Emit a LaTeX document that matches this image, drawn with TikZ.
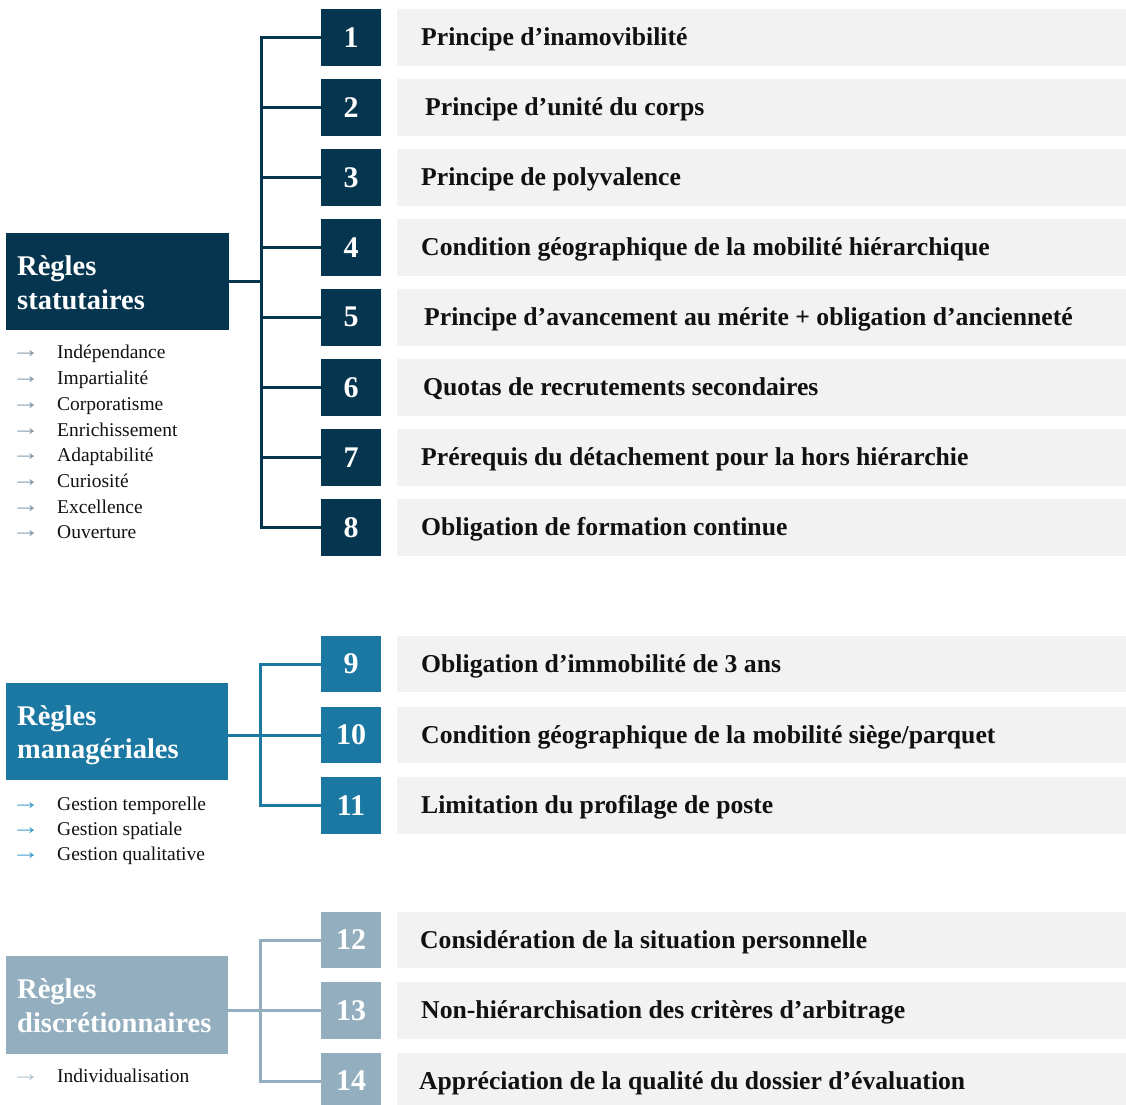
\documentclass[tikz,border=0pt]{standalone}
\usepackage{fontspec}
\setmainfont{Liberation Serif}
\usepackage{graphicx}
\definecolor{cA}{HTML}{06354F}
\definecolor{cB}{HTML}{1B78A2}
\definecolor{cC}{HTML}{92AEBF}
\definecolor{aA}{HTML}{7D96A9}
\definecolor{aB}{HTML}{3A9BCB}
\definecolor{aC}{HTML}{AEC3CF}
\definecolor{barg}{HTML}{F2F2F2}
\definecolor{txt}{HTML}{111111}
\newcommand\mkrow[5]{%
  \node[numbox, fill=#3] (n#1) at (351,#2) {\raisebox{-2pt}{#1}};
  \node[barbox] (b#1) at (761.5,#2) {};
  \node[bartext] (t#1) at (#4,#2+8) {#5};
}
\newcommand\mkitem[5]{%
  \node[arr, text=#3] (a#1) at (11.5,#2) {\raisebox{1pt}{\scalebox{1.45}[1.2]{→}}};
  \node[item] (i#1) at (57,#2) {#4};
}
\begin{document}
\begin{tikzpicture}[x=1pt,y=-1pt,
  numbox/.style={minimum width=60pt, minimum height=56.5pt, inner sep=0pt, text=white, font=\bfseries\fontsize{30}{36}\selectfont},
  barbox/.style={fill=barg, minimum width=729pt, minimum height=56.5pt, inner sep=0pt},
  bartext/.style={anchor=base west, inner sep=0pt, text=txt, font=\bfseries\fontsize{25.7}{30}\selectfont},
  grpbox/.style={inner sep=0pt, minimum height=97pt},
  grptext/.style={anchor=base west, inner sep=0pt, text=white, font=\bfseries\fontsize{28.5}{34}\selectfont},
  arr/.style={anchor=base west, inner sep=0pt, font=\fontsize{19.5}{24}\selectfont},
  item/.style={anchor=base west, inner sep=0pt, text=txt, font=\fontsize{19.5}{24}\selectfont},
  conn/.style={line width=3pt, line join=miter},
]
\useasboundingbox (0,0) rectangle (1126,1104);
\clip (0,0) rectangle (1126,1104);

% ---------- group 1 ----------
\node[grpbox, fill=cA, minimum width=223pt] (L1) at (117.5,281.5) {};
\node[grptext] (g1a) at (17,275) {Règles};
\node[grptext] (g1b) at (17,309) {statutaires};

\mkrow{1}{37.25}{cA}{421}{Principe d’inamovibilité}
\mkrow{2}{107.25}{cA}{425}{Principe d’unité du corps}
\mkrow{3}{177.25}{cA}{421}{Principe de polyvalence}
\mkrow{4}{247.25}{cA}{421}{Condition géographique de la mobilité hiérarchique}
\mkrow{5}{317.25}{cA}{424}{Principe d’avancement au mérite + obligation d’ancienneté}
\mkrow{6}{387.25}{cA}{423}{Quotas de recrutements secondaires}
\mkrow{7}{457.25}{cA}{421}{Prérequis du détachement pour la hors hiérarchie}
\mkrow{8}{527.25}{cA}{421}{Obligation de formation continue}

\coordinate (s1) at (261,0);
\draw[conn, cA] (n1.west) -- (n1.west -| s1) -- (n8.west -| s1) -- (n8.west);
\foreach \k in {2,...,7} \draw[conn, cA] (n\k.west) -- (n\k.west -| s1);
\draw[conn, cA] (L1.east) -- (L1.east -| s1);

\mkitem{1}{358}{aA}{Indépendance}{}
\mkitem{2}{384}{aA}{Impartialité}{}
\mkitem{3}{410}{aA}{Corporatisme}{}
\mkitem{4}{436}{aA}{Enrichissement}{}
\mkitem{5}{461.5}{aA}{Adaptabilité}{}
\mkitem{6}{487}{aA}{Curiosité}{}
\mkitem{7}{513}{aA}{Excellence}{}
\mkitem{8}{538.5}{aA}{Ouverture}{}

% ---------- group 2 ----------
\node[grpbox, fill=cB, minimum width=222pt] (L2) at (117,731.5) {};
\node[grptext] (g2a) at (17,725) {Règles};
\node[grptext] (g2b) at (17,758) {managériales};

\mkrow{9}{664}{cB}{421}{Obligation d’immobilité de 3 ans}
\mkrow{10}{735}{cB}{421}{Condition géographique de la mobilité siège/parquet}
\mkrow{11}{805.5}{cB}{421}{Limitation du profilage de poste}

\coordinate (s2) at (260,0);
\draw[conn, cB] (n9.west) -- (n9.west -| s2) -- (n11.west -| s2) -- (n11.west);
\draw[conn, cB] (n10.west) -- (n10.west -| L2.east);

\mkitem{9}{810}{aB}{Gestion temporelle}{}
\mkitem{10}{835}{aB}{Gestion spatiale}{}
\mkitem{11}{860}{aB}{Gestion qualitative}{}

% ---------- group 3 ----------
\node[grpbox, fill=cC, minimum width=222pt, minimum height=98pt] (L3) at (117,1005) {};
\node[grptext] (g3a) at (17,998) {Règles};
\node[grptext] (g3b) at (17,1032) {discrétionnaires};

\mkrow{12}{940}{cC}{420}{\resizebox{447pt}{\height}{Considération de la situation personnelle}}
\mkrow{13}{1010.5}{cC}{421}{\resizebox{484pt}{\height}{Non-hiérarchisation des critères d’arbitrage}}
\mkrow{14}{1081}{cC}{419}{\resizebox{546pt}{\height}{Appréciation de la qualité du dossier d’évaluation}}

\coordinate (s3) at (260,0);
\draw[conn, cC] (n12.west) -- (n12.west -| s3) -- (n14.west -| s3) -- (n14.west);
\draw[conn, cC] (n13.west) -- (n13.west -| L3.east);

\mkitem{12}{1082}{aC}{Individualisation}{}
\end{tikzpicture}
\end{document}
